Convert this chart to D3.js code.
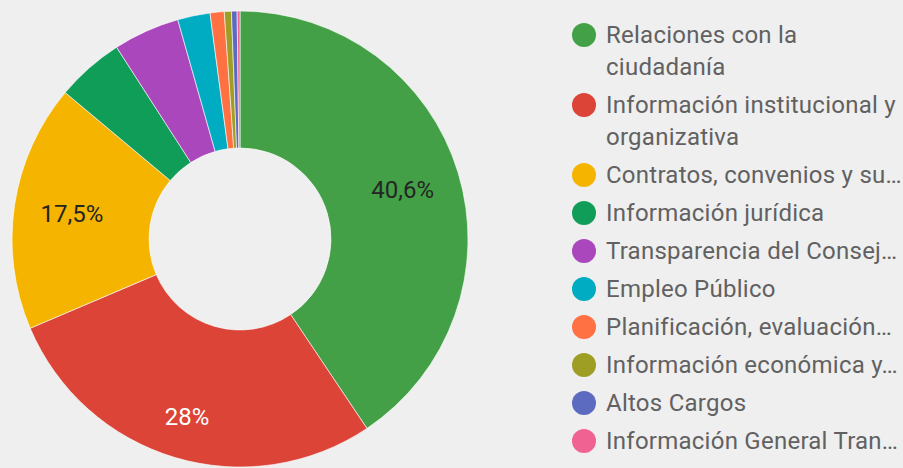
<!DOCTYPE html>
<html>
<head>
<meta charset="utf-8">
<script src="https://cdn.jsdelivr.net/npm/d3@7"></script>
<style>
  html, body { margin: 0; padding: 0; background: #efefef; }
  svg { display: block; font-family: Roboto, "Noto Sans", sans-serif; }
</style>
</head>
<body>
<svg id="chart"></svg>
<script>
// categories as shown in the legend (long ones are cut like the original)
const categories = [
  ['Relaciones con la', 'ciudadanía'],
  ['Información institucional y', 'organizativa'],
  ['Contratos, convenios y su…'],
  ['Información jurídica'],
  ['Transparencia del Consej…'],
  ['Empleo Público'],
  ['Planificación, evaluación…'],
  ['Información económica y…'],
  ['Altos Cargos'],
  ['Información General Tran…']
];
const shares = [40.6, 28.0, 17.5, 4.8, 4.7, 2.3, 1.0, 0.5, 0.4, 0.2];
const colors = ['#43a047', '#db4437', '#f4b400', '#0f9d58', '#ab47bc', '#00acc1', '#ff7043', '#9e9d24', '#5c6bc0', '#f06292'];
const labelText = ['40,6%', '28%', '17,5%', '', '', '', '', '', '', ''];
const labelColor = ['#252525', '#ffffff', '#252525'];

const width = 903;
const height = 468;
const cx = 240, cy = 239;
const outerR = 228, innerR = 91;

const data = shares.map((v, i) => ({ i, value: v, lines: categories[i], color: colors[i] }));

const svg = d3.select('#chart').attr('width', width).attr('height', height);

const pie = d3.pie().sort(null).value(d => d.value);
const arcs = pie(data);

const arc = d3.arc().innerRadius(innerR).outerRadius(outerR);

const g = svg.append('g').attr('transform', `translate(${cx},${cy})`);

g.selectAll('path.slice')
  .data(arcs)
  .join('path')
  .attr('class', 'slice')
  .attr('d', arc)
  .attr('fill', d => d.data.color)
  .attr('stroke', '#ffffff')
  .attr('stroke-width', 0.6);

// labels sit roughly at 3/4 of the radius; the bottom one sits a bit lower
const labelArc = d => {
  const r = d.index === 1 ? 186 : 170;
  return d3.arc().innerRadius(r).outerRadius(r).centroid(d);
};

g.selectAll('text.pct')
  .data(arcs.filter(d => labelText[d.index]))
  .join('text')
  .attr('class', 'pct')
  .attr('x', d => labelArc(d)[0])
  .attr('y', d => labelArc(d)[1])
  .attr('text-anchor', 'middle')
  .attr('dominant-baseline', 'central')
  .attr('font-size', 24)
  .attr('fill', d => labelColor[d.index])
  .text(d => labelText[d.index]);

// legend
const legend = svg.append('g').attr('transform', 'translate(584,35)');
const lineH = 32;
const itemGap = 6;
let yCursor = 0;
data.forEach(d => {
  const item = legend.append('g').attr('transform', `translate(0,${yCursor})`);
  item.append('circle').attr('r', 12).attr('fill', d.color);
  const t = item.append('text')
    .attr('x', 22)
    .attr('font-size', 24)
    .attr('letter-spacing', 0.25)
    .attr('fill', '#616161');
  d.lines.forEach((ln, k) => {
    t.append('tspan')
      .attr('x', 22)
      .attr('y', k * lineH)
      .attr('dominant-baseline', 'central')
      .text(ln);
  });
  yCursor += d.lines.length * lineH + itemGap;
});
</script>
</body>
</html>
